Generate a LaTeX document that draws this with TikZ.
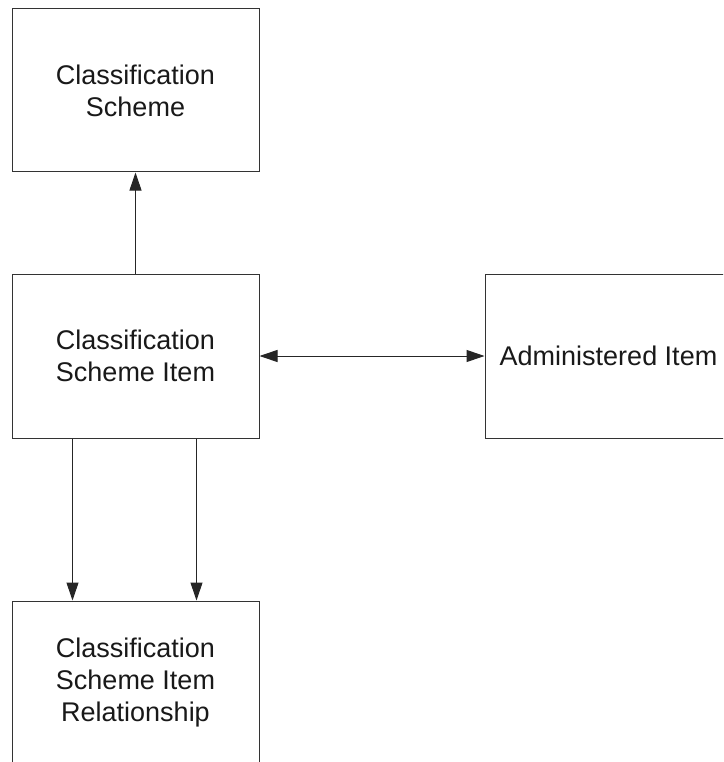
\documentclass[tikz,border=0pt]{standalone}
\usepackage{fontspec}
\setmainfont{Liberation Sans}
\usetikzlibrary{arrows.meta}
\begin{document}
\begin{tikzpicture}[x=1pt,y=-1pt,
  box/.style={draw=black!80, line width=1pt, fill=white, minimum width=247pt, minimum height=164pt,
    inner sep=0pt, align=center, font=\fontsize{27}{32}\selectfont, text=black!90},
  arr/.style={draw=black!85, line width=1pt, -{Triangle[length=18pt,width=12pt]}},
  darr/.style={draw=black!85, line width=1pt, {Triangle[length=18pt,width=12pt]}-{Triangle[length=18pt,width=12pt]}}]
\useasboundingbox (0,0) rectangle (723,762);
\clip (0,0) rectangle (723,762);
\node[box, minimum height=163pt] (cs) at (135.5,90.5) {Classification\\Scheme};
\node[box] (csi) at (135.5,356) {Classification\\Scheme Item};
\node[box] (ai) at (608.5,356) {Administered Item};
\node[box] (csir) at (135.5,683) {Classification\\Scheme Item\\Relationship};
\draw[arr] (csi.north) -- (cs.south);
\draw[darr] (csi.east) -- (ai.west);
\draw[arr] ([xshift=61pt]csi.south west) -- ([xshift=61pt]csir.north west);
\draw[arr] ([xshift=185pt]csi.south west) -- ([xshift=185pt]csir.north west);
\end{tikzpicture}
\end{document}
